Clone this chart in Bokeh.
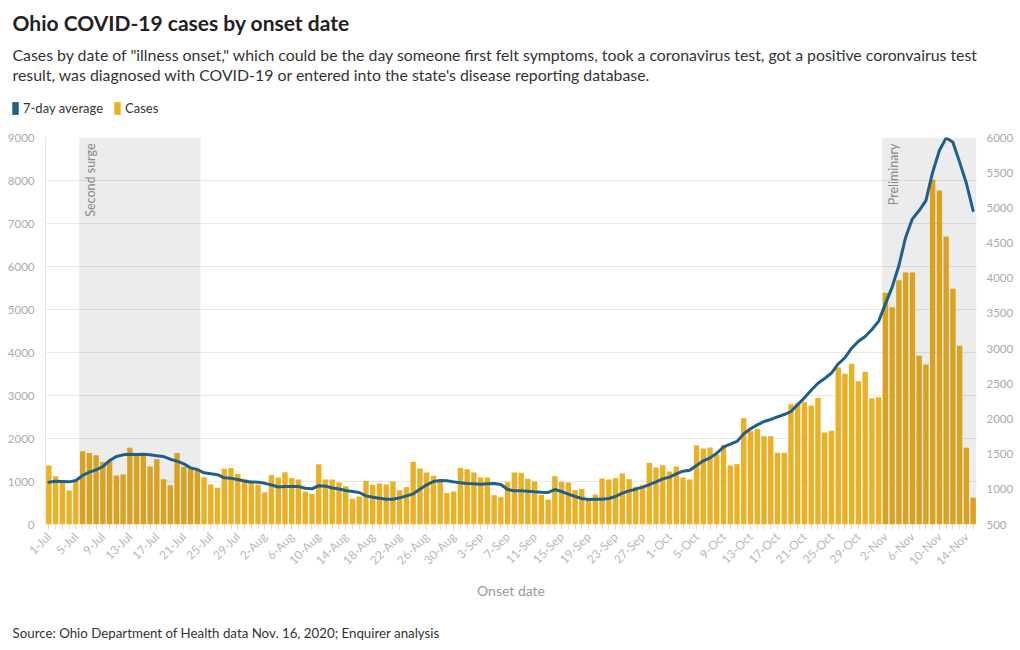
import pandas as pd
from math import pi
from bokeh.plotting import figure
from bokeh.layouts import column
from bokeh.models import (Range1d, LinearAxis, FixedTicker, Label, Legend,
                          LegendItem, ColumnDataSource)
from bokeh.embed import file_html
from bokeh.resources import INLINE

# ---------------- data ----------------
dates = pd.date_range("2020-07-01", "2020-11-15", freq="D")
day_labels = [f"{d.day}-{d.strftime('%b')}" for d in dates]

cases = [1370, 1125, 980, 790, 1000, 1705, 1660, 1610, 1455, 1500,
         1140, 1160, 1785, 1605, 1645, 1350, 1515, 1055, 910, 1660,
         1335, 1295, 1255, 1100, 930, 855, 1295, 1315, 1175, 1062,
         965, 925, 748, 1150, 1093, 1213, 1078, 1047, 763, 713,
         1400, 1047, 1047, 980, 891, 597, 651, 1016, 922, 953,
         930, 1000, 798, 868, 1457, 1302, 1209, 1132, 1023, 729,
         767, 1318, 1287, 1209, 1093, 1093, 682, 636, 984, 1209,
         1202, 1062, 1000, 690, 581, 1124, 992, 977, 798, 829,
         558, 698, 1070, 1047, 1078, 1186, 1054, 880, 910, 1434,
         1326, 1380, 1233, 1349, 1093, 1047, 1837, 1767, 1791, 1620,
         1853, 1372, 1403, 2473, 2171, 2225, 2054, 2054, 1667, 1667,
         2798, 2822, 2845, 2767, 2946, 2140, 2178, 3651, 3508, 3736,
         3333, 3550, 2938, 2961, 5388, 5054, 5682, 5860, 5860, 3922,
         3721, 8023, 7767, 6698, 5481, 4155, 1783, 620]

avg7 = [1102, 1116, 1111, 1106, 1125, 1196, 1244, 1277, 1324, 1409,
        1466, 1490, 1500, 1495, 1500, 1490, 1476, 1466, 1428, 1400,
        1362, 1305, 1282, 1234, 1220, 1208, 1163, 1158, 1140, 1116,
        1104, 1102, 1085, 1062, 1033, 1040, 1040, 1040, 1016, 1007,
        1052, 1045, 1018, 1004, 983, 969, 955, 907, 886, 874,
        860, 860, 879, 907, 936, 1002, 1064, 1111, 1125, 1121,
        1106, 1092, 1083, 1078, 1073, 1078, 1083, 1068, 997, 978,
        978, 974, 964, 958, 955, 997, 969, 931, 898, 869,
        855, 860, 860, 869, 898, 945, 978, 1002, 1031, 1068,
        1106, 1149, 1173, 1220, 1258, 1272, 1338, 1405, 1447, 1514,
        1599, 1642, 1680, 1788, 1860, 1916, 1964, 1992, 2030, 2063,
        2106, 2205, 2300, 2409, 2508, 2575, 2651, 2783, 2870, 3005,
        3105, 3172, 3271, 3390, 3636, 3873, 4181, 4583, 4844, 4962,
        5104, 5507, 5815, 5995, 5933, 5650, 5350, 4962]

tick_label_list = ["1-Jul", "5-Jul", "9-Jul", "13-Jul", "17-Jul", "21-Jul", "25-Jul",
                   "29-Jul", "2-Aug", "6-Aug", "10-Aug", "14-Aug", "18-Aug", "22-Aug",
                   "26-Aug", "30-Aug", "3-Sep", "7-Sep", "11-Sep", "15-Sep", "19-Sep",
                   "23-Sep", "27-Sep", "1-Oct", "5-Oct", "9-Oct", "13-Oct", "17-Oct",
                   "21-Oct", "25-Oct", "29-Oct", "2-Nov", "6-Nov", "10-Nov", "14-Nov"]

left_ticks = [0, 1000, 2000, 3000, 4000, 5000, 6000, 7000, 8000, 9000]
right_ticks = [500, 1000, 1500, 2000, 2500, 3000, 3500, 4000, 4500, 5000, 5500, 6000]

shade_names = ["Second surge", "Preliminary"]
shade_start = ["6-Jul", "2-Nov"]
shade_end = ["23-Jul", "15-Nov"]

title_text = "Ohio COVID-19 cases by onset date"
subtitle_lines = ['Cases by date of "illness onset," which could be the day someone first felt '
                  'symptoms, took a coronavirus test, got a positive coronvairus test',
                  "result, was diagnosed with COVID-19 or entered into the state's disease "
                  "reporting database."]
source_text = "Source: Ohio Department of Health data Nov. 16, 2020; Enquirer analysis"
legend_labels = ["7-day average", "Cases"]

# ---------------- derived positions ----------------
xs = list(range(len(dates)))
tick_pos = [day_labels.index(t) for t in tick_label_list]
s_left = [day_labels.index(s) - 0.5 for s in shade_start]
s_right = [day_labels.index(e) + 0.5 for e in shade_end]

FONT = "Lato"
YELLOW = "#EBB023"
BLUE = "#1F5F8B"
W = 1020
HEAD_H = 127
FOOT_H = 40
MAIN_H = 650 - HEAD_H - FOOT_H


def blank(h):
    f = figure(width=W, height=h, x_range=Range1d(0, W), y_range=Range1d(0, h),
               title=None, output_backend="svg", toolbar_location=None, min_border=0,
               outline_line_color=None, x_axis_type=None, y_axis_type=None,
               frame_align=False)
    f.grid.visible = False
    return f


def text_at(fig, fig_top, txt, x, baseline_y, size, color, style="normal"):
    # screen units measured from the bottom-left of the strip
    fig.add_layout(Label(x=x, y=fig_top + fig.height - baseline_y, x_units="screen",
                         y_units="screen", text=txt, text_font=FONT,
                         text_font_size=size, text_font_style=style,
                         text_color=color, text_baseline="alphabetic"))


# ---------------- header ----------------
head = blank(HEAD_H)
text_at(head, 0, title_text, 12, 22, "21px", "#222222", "bold")
for i, line in enumerate(subtitle_lines):
    text_at(head, 0, line, 12, 54 + 20 * i, "15.85px", "#333333")
# off-screen stand-ins that only feed the legend swatches
r_avg = head.vbar(x=[-1000], top=[1], width=1, fill_color=BLUE, line_color=None)
r_cas = head.vbar(x=[-1000], top=[1], width=1, fill_color=YELLOW, line_color=None)
legend = Legend(items=[LegendItem(label=legend_labels[0], renderers=[r_avg]),
                       LegendItem(label=legend_labels[1], renderers=[r_cas])],
                orientation="horizontal", glyph_width=8, glyph_height=16,
                label_standoff=4, spacing=10, padding=0, margin=0,
                border_line_color=None, background_fill_alpha=0,
                label_text_font=FONT, label_text_font_size="13px",
                label_text_color="#333333", label_height=16,
                location=(11, HEAD_H - 116))
head.add_layout(legend, "center")

# ---------------- main chart ----------------
src = ColumnDataSource(dict(x=xs, cases=cases, avg=avg7, label=day_labels))

p = figure(width=W, height=MAIN_H, x_range=Range1d(-0.5, len(dates) - 0.5),
           y_range=Range1d(0, 9000), title=None, output_backend="svg",
           toolbar_location=None, min_border_left=45, min_border_right=44,
           min_border_top=137 - HEAD_H, min_border_bottom=HEAD_H + MAIN_H - 524,
           outline_line_color=None, frame_align=False)
p.extra_y_ranges = {"avg": Range1d(500, 6000)}

p.vbar(x="x", top="cases", width=0.8, source=src, fill_color=YELLOW, line_color=None)
p.quad(left=s_left, right=s_right, bottom=0, top=9000, fill_color="black",
       fill_alpha=0.075, line_color=None)
p.line(x="x", y="avg", source=src, y_range_name="avg", line_color=BLUE,
       line_width=3, line_join="round", line_cap="round")

xa = p.xaxis[0]
xa.ticker = FixedTicker(ticks=tick_pos, minor_ticks=xs)
xa.major_label_overrides = {i: day_labels[i] for i in tick_pos}
xa.major_label_orientation = pi / 4
xa.major_label_text_color = "#b8b8b8"
xa.major_label_text_font = FONT
xa.major_label_text_font_size = "12px"
xa.major_tick_line_color = "#dddddd"
xa.minor_tick_line_color = "#dddddd"
xa.major_tick_in = 0
xa.major_tick_out = 5
xa.minor_tick_in = 0
xa.minor_tick_out = 5
xa.axis_line_color = None
xa.axis_label = "Onset date"
xa.axis_label_text_font = FONT
xa.axis_label_text_font_style = "normal"
xa.axis_label_text_font_size = "14px"
xa.axis_label_text_color = "#999999"
xa.axis_label_standoff = 5

ya = p.yaxis[0]
ya.ticker = FixedTicker(ticks=left_ticks)
ya.major_tick_line_color = None
ya.minor_tick_line_color = None
ya.axis_line_color = "#e6e6e6"
ya.major_label_text_color = "#aaaaaa"
ya.major_label_text_font = FONT
ya.major_label_text_font_size = "11.5px"
ya.major_label_standoff = 5

ra = LinearAxis(y_range_name="avg", ticker=FixedTicker(ticks=right_ticks))
ra.major_tick_line_color = None
ra.minor_tick_line_color = None
ra.axis_line_color = None
ra.major_label_text_color = "#aaaaaa"
ra.major_label_text_font = FONT
ra.major_label_text_font_size = "11.5px"
ra.major_label_standoff = 4
p.add_layout(ra, "right")

p.xgrid.grid_line_color = None
p.ygrid.grid_line_color = "#e8e8e8"
p.ygrid.ticker = FixedTicker(ticks=left_ticks)

for name, lft in zip(shade_names, s_left):
    p.add_layout(Label(x=lft, y=9000, x_offset=4, y_offset=-6, text=name,
                       angle=pi / 2, text_align="right", text_baseline="top",
                       text_font=FONT, text_font_size="12.5px", text_color="#888888"))

# ---------------- footer ----------------
foot = blank(FOOT_H)
text_at(foot, 650 - FOOT_H, source_text, 12, 632, "13.3px", "#333333")

layout = column(head, p, foot, spacing=0)
open("out.html", "w").write(file_html(layout, INLINE))
